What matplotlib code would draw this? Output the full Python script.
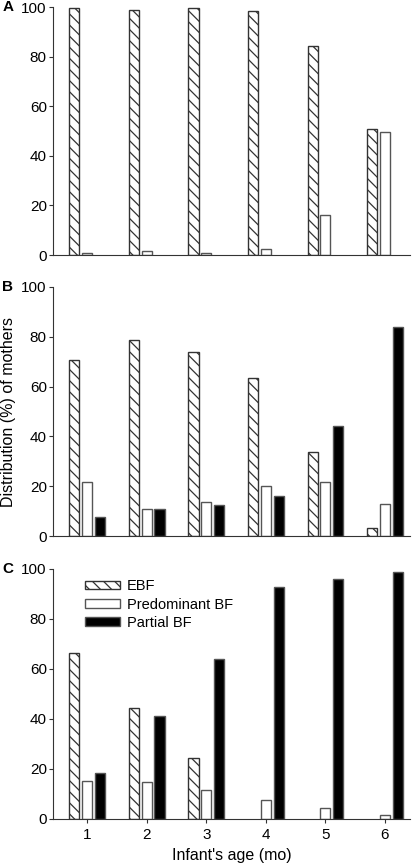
import matplotlib
matplotlib.use("Agg")
import matplotlib.pyplot as plt
import numpy as np

plt.rcParams['font.family'] = ['Liberation Sans', 'DejaVu Sans']
plt.rcParams['hatch.linewidth'] = 0.9

# data (% of mothers)
ages = [1, 2, 3, 4, 5, 6]
series = ["EBF", "Predominant BF", "Partial BF"]

a_ebf = [99.7, 98.9, 99.7, 98.3, 84.3, 50.9]
a_pred = [0.8, 1.5, 0.8, 2.4, 16.1, 49.6]
a_partial = [0, 0, 0, 0, 0, 0]

b_ebf = [70.5, 78.6, 73.8, 63.5, 33.8, 3.2]
b_pred = [21.7, 10.7, 13.5, 20.1, 21.9, 12.7]
b_partial = [7.8, 10.7, 12.6, 16.2, 44.1, 83.8]

c_ebf = [66.5, 44.4, 24.5, 0, 0, 0]
c_pred = [15.3, 14.9, 11.5, 7.6, 4.4, 1.5]
c_partial = [18.4, 41.1, 64.1, 92.9, 95.9, 98.8]

panels = [("A", a_ebf, a_pred, a_partial),
          ("B", b_ebf, b_pred, b_partial),
          ("C", c_ebf, c_pred, c_partial)]


def main():
    fig = plt.figure(figsize=(4.15, 8.66), dpi=100)
    boxes = [(0.128, 0.7055, 0.86, 0.2864),
             (0.128, 0.381, 0.86, 0.2876),
             (0.128, 0.0543, 0.86, 0.2887)]
    x = np.array(ages, dtype=float)
    w = 0.17
    off = 0.215
    for (letter, ebf, pred, part), box in zip(panels, boxes):
        ax = fig.add_axes(box)
        ebf_v = np.array(ebf, dtype=float)
        pred_v = np.array(pred, dtype=float)
        part_v = np.array(part, dtype=float)
        m = ebf_v > 0
        ax.bar(x[m] - off, ebf_v[m], w, color='white', edgecolor='#333333',
               hatch='\\\\\\', lw=1.0, label=series[0])
        m = pred_v > 0
        ax.bar(x[m], pred_v[m], w, color='white', edgecolor='#555555',
               lw=1.0, label=series[1])
        m = part_v > 0
        if m.any():
            ax.bar(x[m] + off, part_v[m], w, color='black', edgecolor='#555555',
                   lw=1.0, label=series[2])
        ax.set_xlim(0.43, 6.42)
        ax.set_ylim(0, 100)
        ax.set_yticks([0, 20, 40, 60, 80, 100])
        ax.spines['top'].set_visible(False)
        ax.spines['right'].set_visible(False)
        ax.spines['left'].set_color('#333333')
        ax.spines['bottom'].set_color('#333333')
        ax.tick_params(axis='y', labelsize=11, length=3, color='#333333', pad=1.5)
        if letter == "C":
            ax.set_xticks(ages)
            ax.tick_params(axis='x', labelsize=11, length=3, color='#333333')
            ax.set_xlabel("Infant's age (mo)", fontsize=11.5, labelpad=4)
            ax.legend(loc='upper left', bbox_to_anchor=(0.06, 1.0), frameon=False,
                      fontsize=10.5, handlelength=2.4, handleheight=0.55,
                      labelspacing=0.3, handletextpad=0.5, borderaxespad=0.3)
        else:
            ax.set_xticks([])
        if letter == "B":
            ax.set_ylabel("Distribution (%) of mothers", fontsize=11.5, labelpad=4)
        fig.text(0.006, box[1] + box[3], letter, fontsize=11, fontweight='bold',
                 ha='left', va='center')

    fig.savefig("out.png", dpi=100)


if __name__ == "__main__":
    main()
